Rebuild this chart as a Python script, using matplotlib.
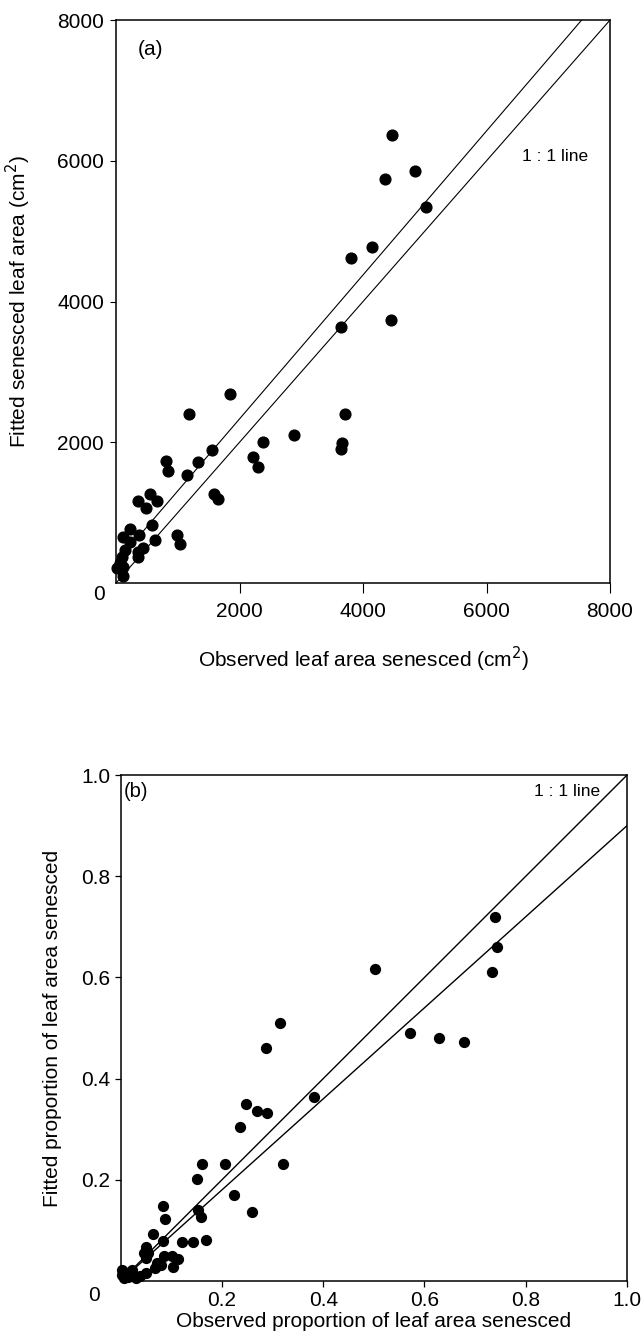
import numpy as np
import matplotlib.pyplot as plt

plt.rcParams['font.family'] = ['Liberation Sans', 'DejaVu Sans']

# Panel (a): observed vs fitted senesced leaf area (cm2)
obs_area = [4470, 4356, 4842, 5020, 4453, 3806, 4146, 3644, 1846, 3708,
            3660, 3644, 1182, 2883, 2381, 1555, 810, 1328, 2219, 2300,
            842, 1150, 356, 551, 664, 486, 1587, 1652, 583, 227,
            113, 372, 227, 988, 1036, 632, 437, 356, 356, 146,
            97, 65, 16, 113, 113]
fit_area = [6366, 5741, 5855, 5343, 3737, 4618, 4775, 3638, 2686, 2401,
            1989, 1904, 2401, 2103, 2004, 1890, 1734, 1719, 1790, 1648,
            1592, 1535, 1165, 1265, 1165, 1066, 1265, 1194, 824, 767,
            654, 682, 583, 682, 554, 611, 497, 441, 369, 469,
            369, 284, 213, 227, 99]
area_ticks = [2000, 4000, 6000, 8000]
area_max = 8000
fit_a_slope, fit_a_int = 1.023, 286

# Panel (b): observed vs fitted proportion of leaf area senesced
obs_prop = [0.247, 0.270, 0.290, 0.236, 0.160, 0.206, 0.320, 0.150, 0.223, 0.259,
            0.083, 0.087, 0.153, 0.159, 0.063, 0.083, 0.122, 0.143, 0.168, 0.050,
            0.046, 0.054, 0.050, 0.085, 0.101, 0.113, 0.103, 0.071, 0.067, 0.079,
            0.050, 0.038, 0.022, 0.020, 0.002, 0.002, 0.006, 0.014, 0.030, 0.010,
            0.502, 0.315, 0.288, 0.571, 0.628, 0.381, 0.739, 0.743, 0.733, 0.678]
fit_prop = [0.350, 0.336, 0.333, 0.305, 0.231, 0.231, 0.232, 0.201, 0.170, 0.136,
            0.148, 0.122, 0.140, 0.127, 0.092, 0.079, 0.078, 0.078, 0.081, 0.068,
            0.056, 0.055, 0.045, 0.049, 0.050, 0.044, 0.028, 0.035, 0.025, 0.032,
            0.015, 0.010, 0.022, 0.015, 0.022, 0.012, 0.005, 0.008, 0.005, 0.015,
            0.617, 0.510, 0.460, 0.490, 0.481, 0.363, 0.720, 0.660, 0.610, 0.472]
prop_ticks = [0.2, 0.4, 0.6, 0.8, 1.0]
fit_b_slope = 0.9

fig = plt.figure(figsize=(6.42, 13.36), dpi=100)

# ---- panel (a)
ax1 = fig.add_axes([0.1807, 0.5636, 0.7695, 0.4214])
ax1.plot([0, area_max], [0, area_max], color='black', lw=0.8)
x_end = (area_max - fit_a_int) / fit_a_slope
ax1.plot([0, x_end], [fit_a_int, fit_a_slope * x_end + fit_a_int], color='black', lw=0.8)
ax1.scatter(obs_area, fit_area, s=60, color='black', zorder=3, clip_on=False)
ax1.set_xlim(0, area_max)
ax1.set_ylim(0, area_max)
ax1.set_xticks(area_ticks)
ax1.set_yticks(area_ticks)
ax1.set_xticklabels([str(t) for t in area_ticks])
ax1.set_yticklabels([str(t) for t in area_ticks])
ax1.tick_params(axis='x', length=7, width=0.8, pad=7, labelsize=15)
ax1.tick_params(axis='y', length=4.5, width=0.8, pad=4, labelsize=15)
for sp in ax1.spines.values():
    sp.set_linewidth(1.1)
ax1.text(-0.034, -0.021, '0', transform=ax1.transAxes, ha='center', va='center', fontsize=15)
ax1.text(0.043, 0.947, '(a)', transform=ax1.transAxes, ha='left', va='center', fontsize=15)
ax1.text(0.955, 0.758, '1 : 1 line', transform=ax1.transAxes, ha='right', va='center', fontsize=12.5)
ax1.set_xlabel('Observed leaf area senesced (cm$^2$)', fontsize=15, labelpad=17)
ax1.set_ylabel('Fitted senesced leaf area (cm$^2$)', fontsize=15)
ax1.yaxis.set_label_coords(-0.168, 0.5)

# ---- panel (b)
ax2 = fig.add_axes([0.1879, 0.04117, 0.7888, 0.3787])
ax2.plot([0, 1], [0, 1], color='black', lw=1.0)
ax2.plot([0, 1], [0, fit_b_slope], color='black', lw=1.0)
ax2.scatter(obs_prop, fit_prop, s=50, color='black', zorder=3, clip_on=False)
ax2.set_xlim(0, 1)
ax2.set_ylim(0, 1)
ax2.set_xticks(prop_ticks)
ax2.set_yticks(prop_ticks)
ax2.set_xticklabels([f'{t:.1f}' for t in prop_ticks])
ax2.set_yticklabels([f'{t:.1f}' for t in prop_ticks])
ax2.tick_params(axis='both', length=4.5, width=0.9, pad=3, labelsize=15)
for sp in ax2.spines.values():
    sp.set_linewidth(1.1)
ax2.text(-0.0525, -0.028, '0', transform=ax2.transAxes, ha='center', va='center', fontsize=15)
ax2.text(0.006, 0.967, '(b)', transform=ax2.transAxes, ha='left', va='center', fontsize=14.5)
ax2.text(0.947, 0.967, '1 : 1 line', transform=ax2.transAxes, ha='right', va='center', fontsize=12.5)
ax2.set_xlabel('Observed proportion of leaf area senesced', fontsize=15, labelpad=1)
ax2.set_ylabel('Fitted proportion of leaf area senesced', fontsize=15)
ax2.yaxis.set_label_coords(-0.116, 0.5)

fig.savefig('out.png', dpi=100)
